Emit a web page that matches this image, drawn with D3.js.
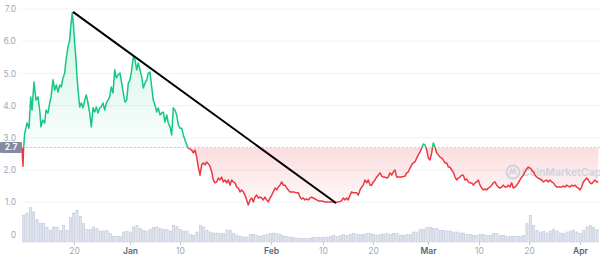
<!DOCTYPE html>
<html>
<head>
<meta charset="utf-8">
<script src="https://cdn.jsdelivr.net/npm/d3@7"></script>
<style>
  body { margin: 0; background: #fff; }
  svg { display: block; font-family: Inter, "Noto Sans", sans-serif; }
</style>
</head>
<body>
<svg id="chart" width="600" height="259"></svg>
<script>
// price readings: [day offset from first sample, price in USD]
const priceSeries = [
  [0,2.68],[0.2,2.12],[0.3,2.62],[0.54,3.15],[0.8,3.30],[1.0,3.46],[1.4,3.30],[1.74,4.27],[2.0,3.86],[2.4,4.73],
  [2.8,4.17],[3.2,4.27],[3.54,3.86],[3.8,3.34],[4.14,3.55],[4.54,3.46],[4.8,3.86],[5.2,3.77],[5.54,4.08],[5.8,4.27],
  [6.2,4.80],[6.54,4.48],[6.86,4.64],[7.2,4.42],[7.54,4.64],[7.86,4.58],[8.2,4.86],[8.54,5.01],[8.8,5.42],[9.2,5.82],
  [9.54,6.04],[9.74,6.44],[10.06,6.88],[10.26,6.57],[10.54,5.94],[10.8,5.42],[11.0,4.89],[11.34,4.27],[11.54,3.96],[11.86,4.08],
  [12.2,3.93],[12.54,4.17],[12.86,4.33],[13.2,4.08],[13.54,3.77],[13.86,3.34],[14.2,3.93],[14.54,3.80],[14.86,3.96],[15.2,3.77],
  [15.54,3.93],[15.86,3.96],[16.2,4.08],[16.54,3.86],[16.86,4.08],[17.2,4.17],[17.54,4.27],[17.86,4.58],[18.2,4.39],[18.54,5.11],
  [18.86,4.86],[19.2,4.95],[19.6,5.01],[19.94,4.70],[20.26,4.39],[20.6,4.11],[20.94,4.17],[21.26,4.70],[21.6,4.80],[21.94,5.11],
  [22.26,5.51],[22.6,5.42],[22.94,5.11],[23.26,5.32],[23.6,5.11],[23.94,4.89],[24.26,4.55],[24.6,4.70],[24.94,4.80],[25.26,5.01],
  [25.6,5.04],[25.94,4.58],[26.26,4.17],[26.6,4.02],[26.94,3.80],[27.26,3.93],[27.6,3.71],[27.94,3.77],[28.26,3.80],[28.6,3.49],
  [28.94,3.71],[29.26,3.46],[29.6,3.34],[29.94,3.09],[30.26,3.93],[30.6,3.86],[30.94,3.71],[31.26,3.40],[31.6,3.30],[31.94,3.30],
  [32.26,3.09],[32.6,2.93],[32.94,2.78],[33.26,2.68],[33.6,2.65],[33.94,2.62],[34.26,2.53],[34.6,2.62],[34.94,2.40],[35.26,2.09],
  [35.6,1.84],[35.94,2.16],[36.26,2.22],[36.6,2.16],[36.94,2.25],[37.26,2.19],[37.6,2.12],[37.94,1.94],[38.26,1.69],[38.6,1.60],
  [38.94,1.63],[39.26,1.75],[39.6,1.69],[39.94,1.78],[40.26,1.63],[40.6,1.69],[40.94,1.60],[41.26,1.69],[41.6,1.53],[41.94,1.69],
  [42.26,1.63],[42.6,1.60],[42.94,1.47],[43.26,1.44],[43.6,1.32],[43.94,1.38],[44.26,1.32],[44.6,1.22],[44.94,1.07],[45.26,0.91],
  [45.6,1.07],[45.94,1.13],[46.26,1.01],[46.6,1.16],[46.94,1.22],[47.26,1.13],[47.6,1.16],[47.94,1.13],[48.26,1.07],[48.6,1.16],
  [48.94,1.07],[49.26,1.01],[49.6,1.13],[49.94,1.22],[50.26,1.32],[50.6,1.44],[50.94,1.38],[51.26,1.47],[51.6,1.53],[51.94,1.63],
  [52.26,1.53],[52.6,1.53],[52.94,1.44],[53.26,1.38],[53.6,1.32],[54.26,1.32],[54.94,1.29],[55.26,1.29],[55.6,1.16],[55.94,1.10],
  [56.26,1.13],[56.6,1.07],[56.94,1.10],[57.26,1.07],[57.6,1.13],[57.94,1.16],[58.26,1.13],[58.6,1.10],[58.94,1.07],[59.26,1.04],
  [59.94,1.04],[60.6,1.01],[61.26,1.01],[61.94,1.01],[62.6,0.98],[63.26,1.01],[63.6,1.02],[63.94,1.05],[64.26,1.13],[64.6,1.07],
  [64.94,1.13],[65.26,1.07],[65.6,1.22],[65.94,1.32],[66.26,1.29],[66.6,1.29],[66.94,1.29],[67.26,1.22],[67.6,1.38],[67.94,1.47],
  [68.26,1.53],[68.6,1.69],[68.94,1.60],[69.26,1.69],[69.6,1.53],[69.94,1.53],[70.26,1.63],[70.6,1.69],[70.94,1.78],[71.26,1.84],
  [71.6,1.91],[71.94,1.81],[72.26,1.78],[72.6,1.78],[72.94,1.75],[73.26,1.78],[73.6,1.91],[73.94,1.84],[74.26,1.94],[74.6,2.00],
  [74.94,1.78],[75.26,1.78],[75.94,1.78],[76.6,1.81],[76.94,1.91],[77.26,1.94],[77.6,2.06],[77.94,2.16],[78.26,2.22],[78.6,2.25],
  [78.94,2.37],[79.26,2.47],[79.6,2.56],[79.94,2.68],[80.26,2.81],[80.6,2.78],[80.94,2.62],[81.26,2.37],[81.6,2.31],[81.94,2.53],
  [82.26,2.84],[82.6,2.71],[82.94,2.53],[83.26,2.47],[83.6,2.40],[83.94,2.37],[84.26,2.31],[84.6,2.22],[84.94,2.22],[85.26,2.09],
  [85.6,2.09],[85.94,2.00],[86.26,1.94],[86.6,1.78],[86.94,1.69],[87.26,1.75],[87.6,1.78],[87.94,1.84],[88.26,1.84],[88.6,1.69],
  [88.94,1.72],[89.26,1.63],[89.6,1.60],[89.94,1.60],[90.26,1.53],[90.6,1.60],[90.94,1.63],[91.26,1.69],[91.6,1.53],[91.94,1.44],
  [92.26,1.38],[92.6,1.41],[92.94,1.38],[93.26,1.44],[93.6,1.47],[93.94,1.53],[94.26,1.60],[94.6,1.63],[94.94,1.53],[95.26,1.47],
  [95.6,1.44],[95.94,1.47],[96.26,1.53],[96.6,1.47],[96.94,1.47],[97.26,1.53],[97.6,1.47],[97.94,1.60],[98.26,1.44],[98.6,1.47],
  [98.94,1.53],[99.26,1.60],[99.6,1.69],[99.94,1.78],[100.26,1.84],[100.6,1.94],[100.94,2.03],[101.26,2.09],[101.6,2.06],[101.94,2.00],
  [102.26,1.94],[102.6,1.84],[102.94,1.78],[103.26,1.75],[103.6,1.72],[103.94,1.69],[104.26,1.63],[104.6,1.66],[104.94,1.69],[105.26,1.63],
  [105.6,1.69],[105.94,1.63],[106.26,1.60],[106.6,1.53],[106.94,1.47],[107.26,1.47],[107.6,1.47],[107.94,1.47],[108.26,1.50],[108.6,1.47],
  [108.94,1.53],[109.26,1.50],[109.6,1.47],[109.94,1.53],[110.26,1.50],[110.6,1.53],[110.94,1.47],[111.26,1.44],[111.6,1.38],[111.94,1.47],
  [112.26,1.63],[112.6,1.69],[112.94,1.75],[113.26,1.69],[113.6,1.60],[113.94,1.57],[114.26,1.63],[114.6,1.69],[114.94,1.63],[115.26,1.63]
];

// volume readings, one bar every 2/3 day (arbitrary units, x10M)
const volume = [
  267,290,343,300,223,190,183,150,117,150, 150,117,167,117,243,290,317,257,183,123,
  123,150,133,110,110,117,83,57,57,57, 100,107,100,150,167,133,117,110,123,143,
  150,133,123,123,110,167,157,123,110,110, 77,67,100,167,150,117,100,90,90,83,
  83,120,117,83,70,57,50,50,77,77, 67,57,67,77,83,90,83,77,60,57,
  50,47,40,33,33,33,40,43,47,43, 43,50,57,63,57,67,73,67,77,83,
  80,73,77,83,83,77,70,73,80,83, 77,83,87,67,67,77,77,100,100,123,
  123,143,143,133,133,117,117,110,110,100, 100,90,90,77,77,67,67,77,77,67,
  67,83,83,67,67,57,57,57,57,57, 67,183,267,167,117,100,107,90,110,123,
  110,90,83,100,110,117,100,83,117,150, 167,143,123
];
const volumeStep = 2 / 3;

const openPrice = 2.7;
const trendPoints = [[10.2, 6.91], [62.8, 0.975]];

const yTicks = [0, 1, 2, 3, 4, 5, 6, 7];
const xTickDays = [10.4, 21.6, 31.6, 49.8, 60.2, 70.2, 81.2, 91.4, 101.4, 111.6];
const xTickLabels = ["20", "Jan", "10", "Feb", "10", "20", "Mar", "10", "20", "Apr"];
const monthLabels = ["Jan", "Feb", "Mar", "Apr"];

const green = "#16c784", red = "#ea3943";

const svg = d3.select("#chart");
const x = d3.scaleLinear().domain([0, 115.6]).range([22, 600]);
const y = d3.scaleLinear().domain([0, 7]).range([234.4, 9]);
const yVol = d3.scaleLinear().domain([0, 400]).range([242, 202]);
const yBase = y(openPrice);

// defs: gradients + clips
const defs = svg.append("defs");
const gUp = defs.append("linearGradient").attr("id", "gUp")
  .attr("gradientUnits", "userSpaceOnUse").attr("x1", 0).attr("x2", 0)
  .attr("y1", y(7)).attr("y2", yBase);
gUp.append("stop").attr("offset", 0).attr("stop-color", green).attr("stop-opacity", 0.22);
gUp.append("stop").attr("offset", 1).attr("stop-color", green).attr("stop-opacity", 0.02);
const gDown = defs.append("linearGradient").attr("id", "gDown")
  .attr("gradientUnits", "userSpaceOnUse").attr("x1", 0).attr("x2", 0)
  .attr("y1", yBase).attr("y2", y(0.9));
gDown.append("stop").attr("offset", 0).attr("stop-color", red).attr("stop-opacity", 0.17);
gDown.append("stop").attr("offset", 1).attr("stop-color", red).attr("stop-opacity", 0.03);

defs.append("clipPath").attr("id", "clipUp").append("rect")
  .attr("x", 0).attr("y", 0).attr("width", 600).attr("height", yBase);
defs.append("clipPath").attr("id", "clipDown").append("rect")
  .attr("x", 0).attr("y", yBase).attr("width", 600).attr("height", 259 - yBase);

// gridlines
svg.append("g").selectAll("line")
  .data(yTicks.filter(d => d > 0))
  .join("line")
  .attr("x1", x(0)).attr("x2", 600)
  .attr("y1", d => y(d)).attr("y2", d => y(d))
  .attr("stroke", "#eff2f5").attr("stroke-width", 1);

// volume bars
svg.append("g").selectAll("rect")
  .data(volume)
  .join("rect")
  .attr("x", (d, i) => x((i + 0.5) * volumeStep) - 1.1)
  .attr("width", 2.2)
  .attr("y", d => yVol(d))
  .attr("height", d => yVol(0) - yVol(d))
  .attr("fill", "#dfe3ee")
  .attr("stroke", "#b9c0d5")
  .attr("stroke-width", 0.5);

// area fills
const area = d3.area().x(d => x(d[0])).y0(yBase).y1(d => y(d[1]));
svg.append("path").datum(priceSeries).attr("d", area)
  .attr("fill", "url(#gUp)").attr("clip-path", "url(#clipUp)");
svg.append("path").datum(priceSeries).attr("d", area)
  .attr("fill", "url(#gDown)").attr("clip-path", "url(#clipDown)");

// watermark
const wm = svg.append("g").attr("opacity", 0.9);
wm.append("circle").attr("cx", 513).attr("cy", 172).attr("r", 6.5)
  .attr("fill", "none").attr("stroke", "#c9cfdb").attr("stroke-width", 1.8);
wm.append("path").attr("d", "M509.5,175 L511.5,169.5 L513,173 L514.5,169.5 L516.5,175")
  .attr("fill", "none").attr("stroke", "#c9cfdb").attr("stroke-width", 1.4);
wm.append("text").attr("x", 522).attr("y", 175.5).attr("font-size", 10.5)
  .attr("font-weight", 600).attr("fill", "#ccd2dd").text("CoinMarketCap");

// open price dotted line
svg.append("line")
  .attr("x1", x(0)).attr("x2", 600).attr("y1", yBase).attr("y2", yBase)
  .attr("stroke", "#b6bcc8").attr("stroke-width", 1).attr("stroke-dasharray", "1.5,2.5");

// price line
const line = d3.line().x(d => x(d[0])).y(d => y(d[1]));
svg.append("path").datum(priceSeries).attr("d", line)
  .attr("fill", "none").attr("stroke", green).attr("stroke-width", 1.5)
  .attr("stroke-linejoin", "round").attr("clip-path", "url(#clipUp)");
svg.append("path").datum(priceSeries).attr("d", line)
  .attr("fill", "none").attr("stroke", red).attr("stroke-width", 1.5)
  .attr("stroke-linejoin", "round").attr("clip-path", "url(#clipDown)");

// trend line
svg.append("path").datum(trendPoints).attr("d", line)
  .attr("fill", "none").attr("stroke", "#000").attr("stroke-width", 2);

// y axis
const yAxis = svg.append("g").attr("transform", `translate(${x(0)},0)`)
  .call(d3.axisLeft(y).tickValues(yTicks).tickSize(0).tickPadding(6)
    .tickFormat(d => d === 0 ? "0" : d.toFixed(1)));
yAxis.select(".domain").remove();
yAxis.selectAll("text").attr("fill", "#a1a7bb").attr("font-size", 8.5)
  .attr("font-family", "Inter, sans-serif");

// open price tag
svg.append("rect").attr("x", 0).attr("y", yBase - 5.5).attr("width", 22).attr("height", 11)
  .attr("fill", "#858ca2").attr("rx", 1);
svg.append("text").attr("x", 11).attr("y", yBase + 3).attr("text-anchor", "middle")
  .attr("font-size", 8.5).attr("font-weight", 600).attr("fill", "#fff").text(openPrice.toFixed(1));

// x axis
const xAxis = svg.append("g").attr("transform", `translate(0,${yVol(0)})`)
  .call(d3.axisBottom(x).tickValues(xTickDays).tickSize(3).tickPadding(3)
    .tickFormat((d, i) => xTickLabels[i]));
xAxis.select(".domain").remove();
xAxis.selectAll(".tick line").attr("stroke", "#c4c9d4");
xAxis.selectAll("text")
  .attr("font-family", "Inter, sans-serif").attr("font-size", 8.5)
  .attr("fill", (d, i) => monthLabels.includes(xTickLabels[i]) ? "#58667e" : "#a1a7bb")
  .attr("font-weight", (d, i) => monthLabels.includes(xTickLabels[i]) ? 600 : 400);
</script>
</body>
</html>
